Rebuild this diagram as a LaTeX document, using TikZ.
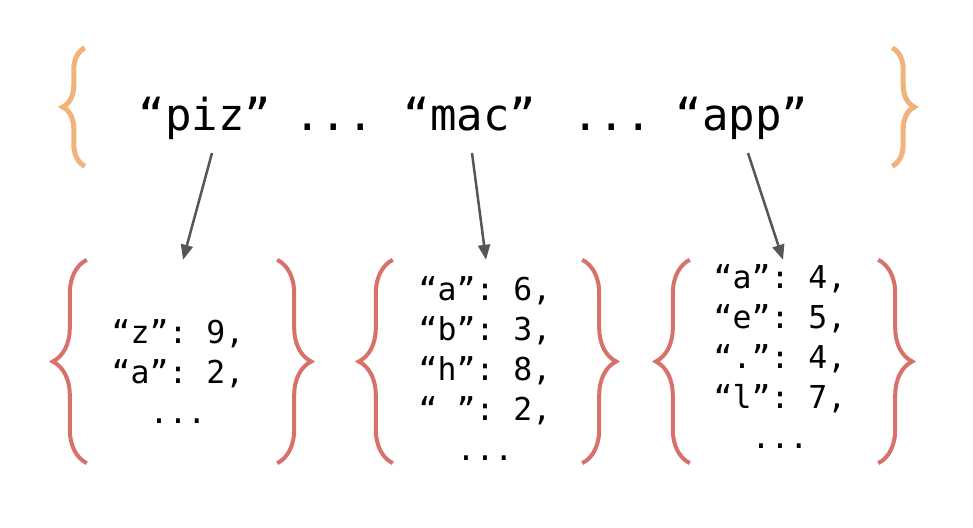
\documentclass[tikz,border=0pt]{standalone}
\usepackage{fontspec}
\setmonofont{DejaVu Sans Mono}
\usetikzlibrary{arrows.meta,decorations.pathreplacing,calc}
\definecolor{outerbrace}{HTML}{F2B27C}
\definecolor{innerbrace}{HTML}{D9716B}
\definecolor{pointer}{HTML}{555555}

\begin{document}
\begin{tikzpicture}[x=1pt,y=-1pt,
    word/.style={anchor=base,inner sep=0pt,font=\ttfamily\fontsize{44}{48}\selectfont},
    dict/.style={align=center,inner sep=0pt,font=\ttfamily\fontsize{31.5}{40}\selectfont},
    slot/.style={minimum width=#1,minimum height=203pt,inner sep=0pt},
    curly/.style={decorate,decoration={brace,amplitude=#1}},
    conn/.style={draw=pointer,line width=2.5pt,-{Triangle[length=15pt,width=12pt]}}]
    \useasboundingbox (0,0) rectangle (973,527);

    \node[minimum width=807pt,minimum height=118pt,inner sep=0pt] (set) at (488.5,107) {};
    \node[word] (piz) at (205,130) {“piz”};
    \node[word] (gap1) at (334,130) {...};
    \node[word] (mac) at (470,130) {“mac”};
    \node[word] (gap2) at (612,130) {...};
    \node[word] (app) at (742,130) {“app”};

    \node[slot=190pt] (s1) at (182,361.5) {};
    \node[slot=189pt] (s2) at (487.5,361.5) {};
    \node[slot=188pt] (s3) at (784,361.5) {};
    \node[dict] (d1) at (178,372) {“z”: 9,\\“a”: 2,\\...};
    \node[dict] (d2) at (485,368.5) {“a”: 6,\\“b”: 3,\\“h”: 8,\\“ ”: 2,\\...};
    \node[dict] (d3) at (780,357) {“a”: 4,\\“e”: 5,\\“.”: 4,\\“l”: 7,\\...};

    \draw[curly=22pt,outerbrace,line width=5pt] (set.south west) -- (set.north west);
    \draw[curly=22pt,outerbrace,line width=5pt] (set.north east) -- (set.south east);
    \foreach \s in {s1,s2,s3} {
        \draw[curly=34pt,innerbrace,line width=4pt] (\s.south west) -- (\s.north west);
        \draw[curly=34pt,innerbrace,line width=4pt] (\s.north east) -- (\s.south east);
    }

    \draw[conn] ($(piz.base)+(7,23)$) -- ($(s1.north)+(1,0)$);
    \draw[conn] ($(mac.base)+(2,23)$) -- ($(s2.north)+(-1.5,0)$);
    \draw[conn] ($(app.base)+(6,23)$) -- ($(s3.north)+(-1,0)$);
\end{tikzpicture}
\end{document}
